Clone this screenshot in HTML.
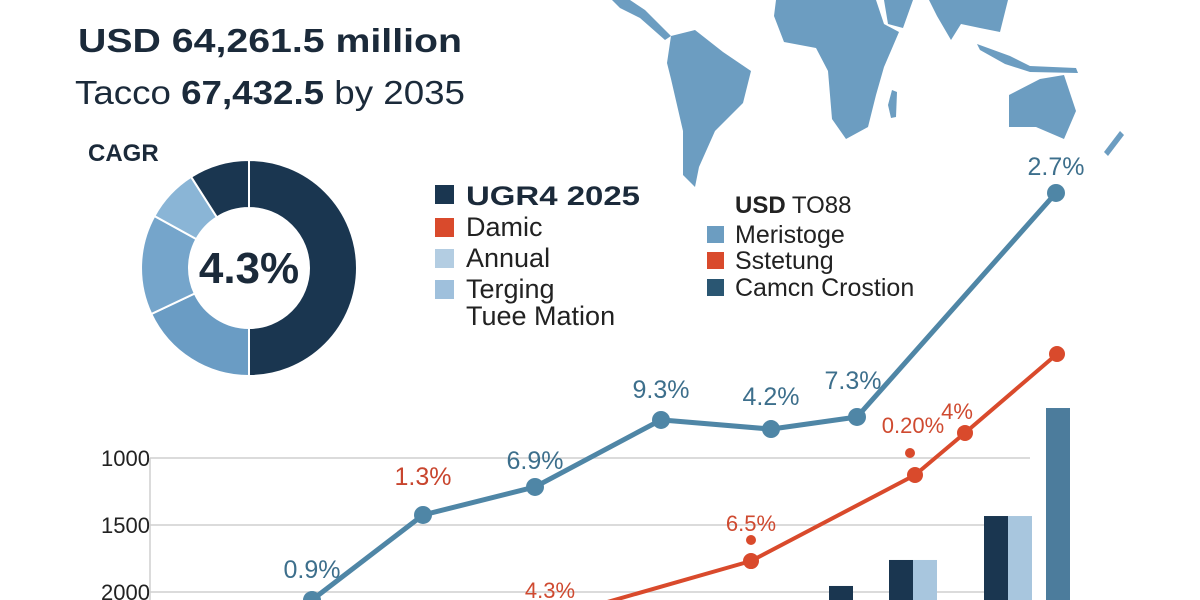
<!DOCTYPE html>
<html><head><meta charset="utf-8">
<style>
body{margin:0;background:#fff;}
svg{display:block;font-family:"Liberation Sans",Arial,sans-serif;}
</style></head>
<body>
<svg width="1200" height="600" viewBox="0 0 1200 600">
<g fill="#6c9dc1">
  <polygon points="612,0 630,0 645,10 671,36 665,40 640,18 620,8"/>
  <polygon points="671,36 695,30 723,52 751,71 743,103 715,131 699,167 695,187 683,175 683,131 671,79 667,63"/>
  <polygon points="776,0 876,0 884,24 899,32 884,67 876,95 868,127 846,139 832,119 828,71 816,48 784,42 774,16"/>
  <polygon points="892,90 897,92 896,117 891,118 888,105"/>
  <polygon points="884,0 913,0 903,28 888,24"/>
  <polygon points="929,0 1008,0 1000,32 980,28 961,24 951,40 937,16"/>
  <polygon points="977,44 1010,56 1030,66 1076,68 1078,73 1030,72 1005,64 980,50"/>
  <polygon points="1009,95 1040,79 1064,75 1076,111 1064,139 1036,127 1009,127"/>
  <polygon points="1120,131 1124,135 1108,156 1104,152"/>
</g>
<g fill="#1b2a3a">
  <text x="78" y="52" font-size="33" font-weight="bold" textLength="384" lengthAdjust="spacingAndGlyphs">USD 64,261.5 million</text>
  <text x="75" y="104" font-size="33" textLength="390" lengthAdjust="spacingAndGlyphs">Tacco <tspan font-weight="bold">67,432.5</tspan> by 2035</text>
  <text x="88" y="161" font-size="24" font-weight="bold">CAGR</text>
</g>
<g id="donut"></g>
<text x="249" y="283" font-size="44" font-weight="bold" fill="#1b2a3a" text-anchor="middle">4.3%</text>
<g font-size="27" fill="#222">
  <rect x="435" y="185" width="19" height="19" fill="#1a3650"/>
  <text x="466" y="205" font-weight="bold" font-size="27" fill="#1b2a3a" textLength="174" lengthAdjust="spacingAndGlyphs">UGR4 2025</text>
  <rect x="435" y="218" width="19" height="19" fill="#d94a2c"/>
  <text x="466" y="236">Damic</text>
  <rect x="435" y="249" width="19" height="19" fill="#b3cde2"/>
  <text x="466" y="267">Annual</text>
  <rect x="435" y="280" width="19" height="19" fill="#9fc0dc"/>
  <text x="466" y="298">Terging</text>
  <text x="466" y="325">Tuee Mation</text>
</g>
<g font-size="25" fill="#222">
  <text x="735" y="213" font-size="24"><tspan font-weight="bold">USD</tspan> TO88</text>
  <rect x="707" y="226" width="17" height="17" fill="#6c9dc1"/>
  <text x="735" y="243">Meristoge</text>
  <rect x="707" y="252" width="17" height="17" fill="#d94a2c"/>
  <text x="735" y="269">Sstetung</text>
  <rect x="707" y="279" width="17" height="17" fill="#2a5672"/>
  <text x="735" y="296">Camcn Crostion</text>
</g>
<g id="chart"></g>
</svg>
<script>
var donutShares=[50,18,15,8,9];
var donutColors=["#1a3650","#6a9cc4","#75a5cb","#8ab5d6","#1a3650"];
var yTicks=[1000,1500,2000];
var blueX=[312,423,535,661,771,857,1056];
var blueVals=[2060,1425,1216,716,784,694,-978];
var blueLabels=["0.9%","1.3%","6.9%","9.3%","4.2%","7.3%","2.7%"];
var redX=[600,751,915,965,1057];
var redVals=[2090,1769,1127,813,224];
var redLabels=["4.3%","6.5%","0.20%","4%",""];
var barX=[841,901,925,996,1020,1058];
var barVals=[1955,1761,1761,1433,1433,627];
var barKinds=[0,0,1,0,1,2];

var NS="http://www.w3.org/2000/svg";
function mk(t,a,p){var e=document.createElementNS(NS,t);for(var k in a)e.setAttribute(k,a[k]);p.appendChild(e);return e;}
function yS(v){return 458+(v-1000)*0.134;}
var dg=document.getElementById('donut');
var cx=249,cy=268,R=108,r=60,tot=donutShares.reduce(function(a,b){return a+b;},0),acc=0;
donutShares.forEach(function(s,i){
  var a0=acc/tot*2*Math.PI,a1=(acc+s)/tot*2*Math.PI;acc+=s;
  function pt(rad,a){return (cx+rad*Math.sin(a)).toFixed(1)+","+(cy-rad*Math.cos(a)).toFixed(1);}
  var lg=(a1-a0)>Math.PI?1:0;
  var p=mk('path',{d:"M"+pt(R,a0)+" A"+R+","+R+" 0 "+lg+" 1 "+pt(R,a1)+" L"+pt(r,a1)+" A"+r+","+r+" 0 "+lg+" 0 "+pt(r,a0)+"Z",fill:donutColors[i],stroke:"#fff","stroke-width":2},dg);
  
  
});
var g=document.getElementById('chart');
yTicks.forEach(function(t){
  var l=mk('line',{x1:150,x2:1030,y1:yS(t),y2:yS(t),stroke:"#cfcfcf","stroke-width":1.5},g);
  
  
  var tx=mk('text',{x:150,y:yS(t)+8,"font-size":22,fill:"#222","text-anchor":"end"},g);
  tx.textContent=t;
  
  
});
mk('line',{x1:150,x2:150,y1:458,y2:600,stroke:"#cfcfcf","stroke-width":1.5},g);
var barColors=["#1a3650","#a8c6de","#4c7c9c"];
barX.forEach(function(x,i){
  var b=mk('rect',{x:x-12,y:yS(barVals[i]),width:24,height:600-yS(barVals[i]),fill:barColors[barKinds[i]]},g);
  
  
});
var rp=redX.map(function(x,i){return x+","+yS(redVals[i]).toFixed(1);});
var rl=mk('polyline',{points:"520,620 "+rp.join(" "),fill:"none",stroke:"#d94a2c","stroke-width":4,"stroke-linejoin":"round"},g);


var roff=[[-50,-6],[0,-30],[-2,-42],[-8,-14]];
redX.forEach(function(x,i){
  if(i>0){var c=mk('circle',{cx:x,cy:yS(redVals[i]),r:8,fill:"#d94a2c"},g);
  
  }
  if(redLabels[i]){var t=mk('text',{x:x+roff[i][0],y:yS(redVals[i])+roff[i][1],"font-size":22,fill:"#cf4a30","text-anchor":"middle"},g);
  t.textContent=redLabels[i];
  
  }
});
[[751,540],[910,453]].forEach(function(d,i){var c=mk('circle',{cx:d[0],cy:d[1],r:5,fill:"#d94a2c"},g);

});
var bpts=blueX.map(function(x,i){return x+","+yS(blueVals[i]).toFixed(1);});
var bl=mk('polyline',{points:bpts.join(" "),fill:"none",stroke:"#4f86a6","stroke-width":5,"stroke-linejoin":"round"},g);


var boff=[[0,-22],[0,-30],[0,-18],[0,-22],[0,-24],[-4,-28],[0,-18]];
blueX.forEach(function(x,i){
  var c=mk('circle',{cx:x,cy:yS(blueVals[i]),r:9,fill:"#4f86a6"},g);
  
  
  var t=mk('text',{x:x+boff[i][0],y:yS(blueVals[i])+boff[i][1],"font-size":25,fill:i==1?"#c8452e":"#3d6f8c","text-anchor":"middle"},g);
  t.textContent=blueLabels[i];
  
  
});
</script>
</body></html>
